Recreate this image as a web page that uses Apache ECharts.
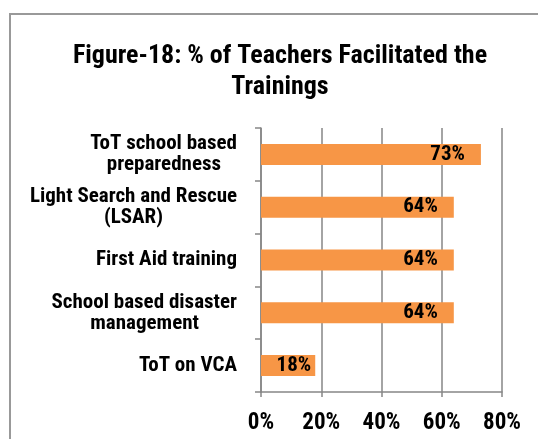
<!DOCTYPE html>
<html>
<head>
<meta charset="utf-8">
<script src="https://cdn.jsdelivr.net/npm/echarts@6/dist/echarts.min.js"></script>
<style>
  html, body { margin: 0; padding: 0; background: #fff; }
  #chart { width: 538px; height: 439px; }
</style>
</head>
<body>
<div id="chart"></div>
<script>
var FONT = "'Liberation Sans Narrow', 'Arial Narrow', 'Roboto Condensed', 'Liberation Sans', sans-serif";

var categories = [
  'ToT school based\npreparedness',
  'Light Search and Rescue\n(LSAR)',
  'First Aid training',
  'School based disaster\nmanagement',
  'ToT on VCA'
];
var values = [73, 64, 64, 64, 18];
var xTicks = [0, 20, 40, 60, 80];

var chart = echarts.init(document.getElementById('chart'));

// centre the lines of each label inside its right-aligned block (pad short lines)
var ctx = document.createElement('canvas').getContext('2d');
ctx.font = 'bold 21px ' + FONT;
var rich = {};
var labelText = categories.map(function (c, i) {
  var lines = c.split('\n');
  var ws = lines.map(function (l) { return ctx.measureText(l).width; });
  var maxW = Math.max.apply(null, ws);
  return lines.map(function (l, j) {
    var p = Math.round((maxW - ws[j]) / 2);
    rich['s' + i + '_' + j] = {
      fontFamily: FONT,
      fontWeight: 'bold',
      fontSize: 21,
      lineHeight: 21,
      padding: [0, p, 0, p],
      color: '#000'
    };
    return '{s' + i + '_' + j + '|' + l + '}';
  }).join('\n');
});

var seriesData = values.map(function (v) {
  // small bar: label sits closer to the end
  if (v < 30) return { value: v, label: { distance: 4 } };
  return v;
});

chart.setOption({
  animation: false,
  title: {
    text: 'Figure-18: % of Teachers Facilitated the\nTrainings',
    left: 275,
    top: 36,
    textAlign: 'center',
    textStyle: {
      fontFamily: FONT,
      fontWeight: 'bold',
      fontSize: 26,
      lineHeight: 31,
      color: '#000'
    }
  },
  graphic: [{
    type: 'rect',
    shape: { x: 10, y: 14, width: 700, height: 700 },
    style: { fill: 'none', stroke: '#999', lineWidth: 2 },
    silent: true
  }],
  grid: { left: 261, right: 36, top: 128, bottom: 47 },
  xAxis: {
    type: 'value',
    min: xTicks[0],
    max: xTicks[xTicks.length - 1],
    interval: 20,
    axisLine: { show: true, lineStyle: { color: '#868686', width: 1.5 } },
    axisTick: { show: true, length: 5, lineStyle: { color: '#868686', width: 1.5 } },
    splitLine: { show: true, lineStyle: { color: '#868686', width: 1.5 } },
    axisLabel: {
      margin: 20,
      formatter: '{value}%',
      fontFamily: FONT,
      fontWeight: 'bold',
      fontSize: 23,
      color: '#000'
    }
  },
  yAxis: {
    type: 'category',
    inverse: true,
    data: categories,
    axisLine: { show: true, lineStyle: { color: '#868686', width: 1.5 } },
    axisTick: { show: true, length: 6, lineStyle: { color: '#868686', width: 1.5 } },
    axisLabel: {
      margin: 24,
      formatter: function (s, i) { return labelText[i]; },
      rich: rich
    }
  },
  series: [{
    type: 'bar',
    data: seriesData,
    barWidth: 21,
    itemStyle: { color: '#F79646' },
    label: {
      show: true,
      position: 'insideRight',
      distance: 16,
      formatter: '{c}%',
      fontFamily: FONT,
      fontWeight: 'bold',
      fontSize: 21,
      color: '#000'
    }
  }]
});
</script>
</body>
</html>
